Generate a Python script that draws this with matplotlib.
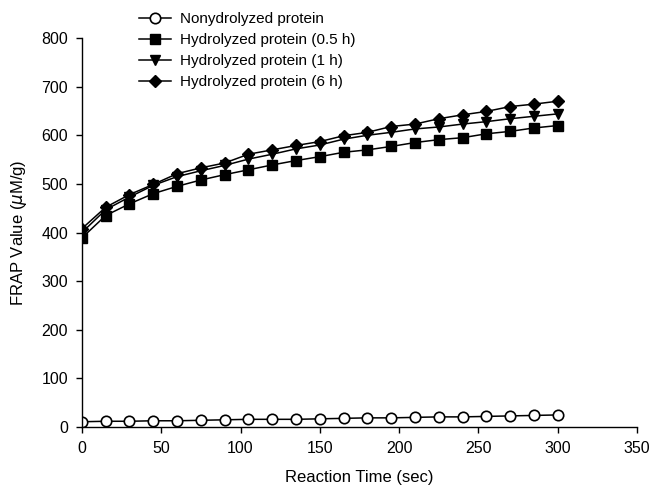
import matplotlib
matplotlib.use('Agg')
import matplotlib.pyplot as plt

plt.rcParams['font.family'] = ['Liberation Sans', 'DejaVu Sans']

# reaction time (sec)
time_sec = [0, 15, 30, 45, 60, 75, 90, 105, 120, 135, 150,
            165, 180, 195, 210, 225, 240, 255, 270, 285, 300]

# FRAP values (uM/g)
nonhydrolyzed = [11, 12, 12, 13, 13, 14, 15, 16, 16, 16, 17,
                 18, 19, 19, 20, 21, 21, 22, 23, 24, 25]
hydro_05h = [389, 435, 459, 480, 495, 508, 519, 529, 539, 548, 556,
             565, 570, 577, 585, 591, 595, 603, 608, 615, 620]
hydro_1h = [400, 447, 473, 497, 515, 527, 538, 551, 561, 572, 580,
            592, 600, 606, 613, 617, 623, 628, 634, 639, 644]
hydro_6h = [408, 452, 478, 499, 521, 533, 543, 561, 570, 579, 587,
            599, 606, 618, 623, 634, 642, 649, 659, 664, 670]

labels = ['Nonydrolyzed protein', 'Hydrolyzed protein (0.5 h)',
          'Hydrolyzed protein (1 h)', 'Hydrolyzed protein (6 h)']

fig = plt.figure(figsize=(6.5, 4.87), dpi=100)
ax = fig.add_axes([0.126, 0.123, 0.854, 0.799])

ax.plot(time_sec, nonhydrolyzed, '-o', color='black', mfc='white', mec='black',
        mew=1.2, ms=7.5, lw=1.1, label=labels[0])
ax.plot(time_sec, hydro_05h, '-s', color='black', ms=6.8, lw=1.1, label=labels[1])
ax.plot(time_sec, hydro_1h, '-v', color='black', ms=7.8, lw=1.1, label=labels[2])
ax.plot(time_sec, hydro_6h, '-D', color='black', ms=6.5, lw=1.1, label=labels[3])

ax.set_xlim(0, 350)
ax.set_ylim(0, 800)
ax.set_xticks(range(0, 351, 50))
ax.set_yticks(range(0, 801, 100))
for s in ['top', 'right']:
    ax.spines[s].set_visible(False)
ax.spines['left'].set_linewidth(1)
ax.spines['bottom'].set_linewidth(1)
ax.tick_params(direction='out', length=4, width=1, labelsize=11.5, pad=6)

ax.set_xlabel('Reaction Time (sec)', fontsize=12, labelpad=10)
ax.set_ylabel(r'FRAP Value ($\mu$M/g)', fontsize=12, labelpad=9)

leg = fig.legend(loc='upper left', bbox_to_anchor=(0.195, 1.0), frameon=False,
                 fontsize=11, handlelength=2.1, handletextpad=0.6,
                 labelspacing=0.45, borderpad=0.3)

fig.savefig('out.png', dpi=100)
